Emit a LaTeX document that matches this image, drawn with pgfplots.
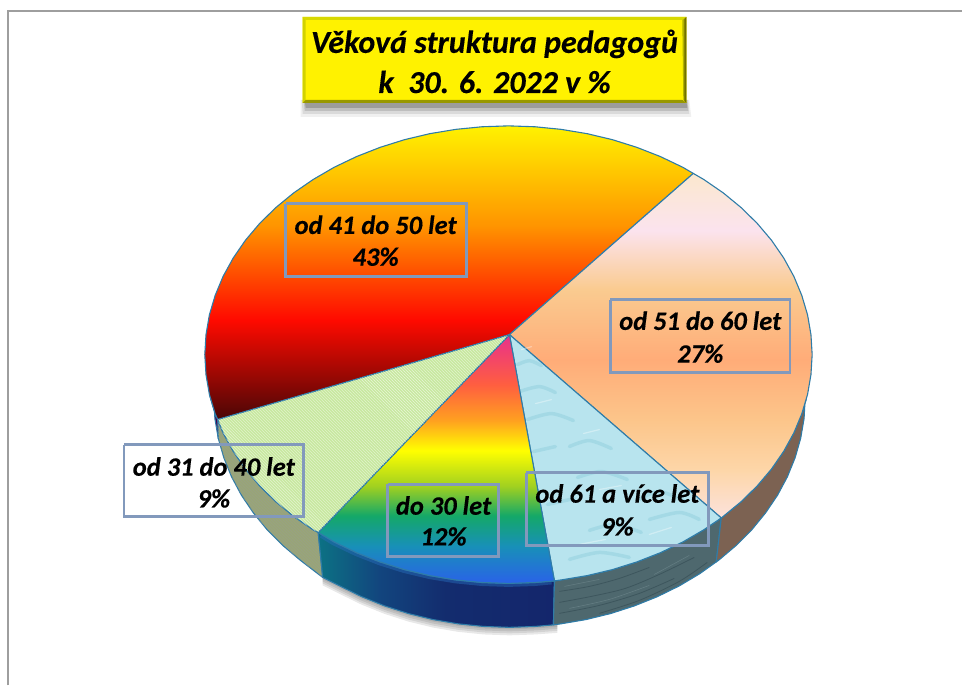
\documentclass[border=0pt]{standalone}
\usepackage{fontspec}
\setmainfont[BoldItalicFeatures={FakeBold=0.3}]{Carlito}
\usepackage{pgfplots}
\pgfplotsset{compat=1.18}
\usetikzlibrary{patterns}
\definecolor{edge}{HTML}{2F7CA8}
\definecolor{boxc}{HTML}{8299BC}
\definecolor{aa}{HTML}{FFF200}\definecolor{ab}{HTML}{FF9400}\definecolor{ac}{HTML}{FF0A00}\definecolor{ad}{HTML}{4A0606}
\definecolor{pa}{HTML}{FBE8CE}\definecolor{pb}{HTML}{FBE3EE}\definecolor{pc}{HTML}{FACB90}\definecolor{pd}{HTML}{FFAC78}\definecolor{pe}{HTML}{FCC58A}\definecolor{pf}{HTML}{FDD6A8}\definecolor{pg}{HTML}{FCE2DC}
\definecolor{ra}{HTML}{E8308C}\definecolor{rb}{HTML}{FF5E40}\definecolor{rc}{HTML}{FFA020}\definecolor{rd}{HTML}{FFFF00}\definecolor{re}{HTML}{A0D020}\definecolor{rf}{HTML}{14A868}\definecolor{rg}{HTML}{1890B8}\definecolor{rh}{HTML}{2A62E8}
\definecolor{ba}{HTML}{0C7284}\definecolor{bb}{HTML}{12457E}\definecolor{bc}{HTML}{132C6E}\definecolor{bd}{HTML}{14266C}
\definecolor{ya}{HTML}{7E7E00}\definecolor{yb}{HTML}{3C3C00}
\pgfdeclareverticalshading{fortythree}{100bp}{color(0bp)=(ad);color(25bp)=(ad);color(42bp)=(ac);color(58bp)=(ab);color(75bp)=(aa);color(100bp)=(aa)}
\pgfdeclareverticalshading{twentyseven}{100bp}{color(0bp)=(pg);color(25bp)=(pg);color(32bp)=(pf);color(39.3bp)=(pe);color(48bp)=(pd);color(58.2bp)=(pc);color(66.7bp)=(pb);color(75bp)=(pa);color(100bp)=(pa)}
\pgfdeclareverticalshading{rainbow}{100bp}{color(0bp)=(rh);color(25bp)=(rh);color(32.5bp)=(rg);color(38.6bp)=(rf);color(44.5bp)=(re);color(51.7bp)=(rd);color(57.8bp)=(rc);color(65bp)=(rb);color(75bp)=(ra);color(100bp)=(ra)}
\pgfdeclarehorizontalshading{frontblue}{100bp}{color(0bp)=(ba);color(25bp)=(ba);color(38bp)=(bb);color(52bp)=(bc);color(75bp)=(bd);color(100bp)=(bd)}
\pgfplotstableread{
x y
323 578
340.2 586.6
362 597.3
384.9 606.5
408.8 614.2
433.4 620.2
458.6 624.5
484.2 627.1
510 628
535.8 627.1
558 625.5
558 615
323 570
}\shadowarc
\tikzset{
 sl/.style={draw=edge,line width=1.1pt,line join=round},
 lab/.style={font=\fontsize{26.5}{30}\selectfont\bfseries\itshape,text=black,inner sep=0pt,anchor=center},
 ttl/.style={font=\fontsize{32}{36}\selectfont\bfseries\itshape,text=black,inner sep=0pt,anchor=center},
 bx/.style={draw=boxc,line width=2.6pt,fill=none,line join=miter}
}
\begin{document}
\begin{tikzpicture}
\begin{axis}[scale only axis,width=963pt,height=686pt,xmin=0,xmax=963,ymin=0,ymax=686,y dir=reverse,hide axis,clip=false]
% page extent
\addplot[draw=none] coordinates {(0,0)(963,0)(963,686)(0,686)(0,0)};
% frame
\addplot[draw=black!38,line width=2pt] coordinates {(8.5,686)(8.5,11.5)(963,11.5)};
% title shadow
\addplot[fill=black,opacity=.06,draw=none] coordinates {(301,100)(690,100)(692,117)(301,117)(301,100)};
\addplot[fill=black,opacity=.09,draw=none] coordinates {(302,100)(689,100)(690,114)(303,114)(302,100)};
\addplot[fill=black,opacity=.13,draw=none] coordinates {(304,100)(688,100)(689,111)(305,111)(304,100)};
\addplot[fill=black,opacity=.18,draw=none] coordinates {(305,100)(687,100)(688,108)(306,108)(305,100)};
% title box
\addplot[fill=yellow,draw=none] coordinates {(303,17)(687,17)(687,103)(303,103)(303,17)};
\addplot[fill=ya!30!yellow,draw=none] coordinates {(303,17)(687,17)(683,20)(306,20)(303,17)};
\addplot[fill=ya!35!yellow,draw=none] coordinates {(303,17)(306,20)(306,100)(303,103)(303,17)};
\addplot[fill=ya!60!yellow,draw=none] coordinates {(687,17)(687,103)(684,100)(683,20)(687,17)};
\addplot[fill=ya!90!black,draw=none] coordinates {(687,17)(687,103)(685,101)(685,19)(687,17)};
\addplot[fill=ya!80!yellow,draw=none] coordinates {(303,103)(687,103)(683,100)(306,100)(303,103)};
\node[ttl] at (axis cs:495,44) {Věková struktura pedagogů};
\node[ttl] at (axis cs:495,82) {k\ \ 30. 6. 2022 v \%};
% pie shadow
\addplot[fill=black,opacity=.09,draw=none,yshift=-2pt] table {\shadowarc};
\addplot[fill=black,opacity=.09,draw=none,yshift=-4pt] table {\shadowarc};
\addplot[fill=black,opacity=.09,draw=none,yshift=-6pt] table {\shadowarc};
\addplot[fill=black,opacity=.09,draw=none,yshift=-8pt] table {\shadowarc};
% sides
\addplot[fill=black!60!red!70!blue,sl] coordinates {(209.6,394.8)(215.4,414.3)(218,420)(221,443)(218.5,438.8)(215.1,419)(214,399)(209.6,394.8)};
\addplot[fill={rgb,255:red,152;green,166;blue,118},sl] coordinates {(318.5,533)(313.6,530.4)(294,516.9)(276.1,502.2)(260,486.4)(245.7,469.5)(233.5,451.8)(223.3,433.3)(218,420)(218.5,438.8)(224.1,458.3)(231.8,477.3)(241.7,495.8)(253.7,513.5)(267.5,530.4)(283.3,546.2)(300.7,560.9)(323,578)(318.5,533)};
\addplot[pattern=north west lines,pattern color=white!60!black,draw=none,opacity=.5] coordinates {(318.5,533)(313.6,530.4)(294,516.9)(276.1,502.2)(260,486.4)(245.7,469.5)(233.5,451.8)(223.3,433.3)(218,420)(218.5,438.8)(224.1,458.3)(231.8,477.3)(241.7,495.8)(253.7,513.5)(267.5,530.4)(283.3,546.2)(300.7,560.9)(323,578)(318.5,533)};
\addplot[shading=frontblue,sl] coordinates {(555,581.5)(535.5,583.1)(509,584)(482.5,583.1)(456.2,580.5)(430.3,576.2)(405,570.2)(380.5,562.5)(357,553.3)(334.6,542.6)(318.5,533)(323,578)(340.2,586.6)(362,597.3)(384.9,606.5)(408.8,614.2)(433.4,620.2)(458.6,624.5)(484.2,627.1)(510,628)(535.8,627.1)(554,625.5)(555,581.5)};
% bevel of the blue side
\addplot[draw={rgb,255:red,40;green,110;blue,190},line width=7pt,opacity=.45,line cap=butt] coordinates {(552,581.5)(535.5,583.1)(509,584)(482.5,583.1)(456.2,580.5)(430.3,576.2)(405,570.2)(380.5,562.5)(357,553.3)(334.6,542.6)(322,535)};
\addplot[fill={rgb,255:red,78;green,104;blue,110},sl] coordinates {(722,518.5)(704.4,530.4)(683.4,542.6)(661,553.3)(637.5,562.5)(613,570.2)(587.7,576.2)(561.8,580.5)(555,581.5)(554,625.5)(561.4,624.5)(586.6,620.2)(611.2,614.2)(635.1,606.5)(658,597.3)(679.8,586.6)(700.3,574.4)(717,562.5)(722,518.5)};
\addplot[fill={rgb,255:red,124;green,98;blue,82},sl] coordinates {(722,518.5)(724,516.9)(741.9,502.2)(758,486.4)(772.3,469.5)(784.5,451.8)(794.7,433.3)(802.6,414.3)(807,400)(806,399)(804.9,419)(801.5,438.8)(795.9,458.3)(788.2,477.3)(778.3,495.8)(766.3,513.5)(752.5,530.4)(736.7,546.2)(719.3,560.9)(717,562.5)(722,518.5)};
% texture of the water side
\addplot[smooth,draw={rgb,255:red,50;green,74;blue,82},line width=.8pt,opacity=.6,unbounded coords=jump] table {
x y
560 592
590 587
620 579
650 568
nan nan
560 603
592 597
626 589
660 575
695 558
nan nan
560 614
600 606
640 594
675 579
nan nan
600 614
640 601
680 582
708 563
};
\addplot[smooth,draw={rgb,255:red,120;green,145;blue,150},line width=.6pt,opacity=.5,unbounded coords=jump] table {
x y
565 587
600 580
nan nan
570 609
610 600
650 586
nan nan
655 575
690 556
};
% top faces
\addplot[shading=fortythree,sl] coordinates {(510,335)(218,420)(215.4,414.3)(209.6,394.8)(206.2,375)(205,355)(206.2,335)(209.6,315.2)(215.4,295.7)(223.3,276.7)(233.5,258.2)(245.7,240.5)(260,223.6)(276.1,207.8)(294,193.1)(313.6,179.6)(334.6,167.4)(357,156.7)(380.5,147.5)(405,139.8)(430.3,133.8)(456.2,129.5)(482.5,126.9)(509,126)(535.5,126.9)(561.8,129.5)(587.7,133.8)(613,139.8)(637.5,147.5)(661,156.7)(683.4,167.4)(694,173.6)(510,335)};
\addplot[shading=twentyseven,sl] coordinates {(510,335)(694,173.6)(704.4,179.6)(724,193.1)(741.9,207.8)(758,223.6)(772.3,240.5)(784.5,258.2)(794.7,276.7)(802.6,295.7)(808.4,315.2)(811.8,335)(813,355)(811.8,375)(808.4,394.8)(802.6,414.3)(794.7,433.3)(784.5,451.8)(772.3,469.5)(758,486.4)(741.9,502.2)(724,516.9)(722,518.5)(510,335)};
\addplot[fill={rgb,255:red,184;green,228;blue,238},sl] coordinates {(510,335)(722,518.5)(704.4,530.4)(683.4,542.6)(661,553.3)(637.5,562.5)(613,570.2)(587.7,576.2)(561.8,580.5)(555,581.5)(510,335)};
% water ripples
\addplot[smooth,draw={rgb,255:red,140;green,205;blue,220},line width=3.5pt,opacity=.45,line cap=round,unbounded coords=jump] table {
x y
518 365
530 361
542 366
nan nan
520 392
540 387
556 393
nan nan
528 420
552 414
574 421
nan nan
570 447
590 441
612 449
nan nan
534 452
556 447
nan nan
578 478
602 472
628 480
nan nan
640 500
660 492
686 502
nan nan
548 505
575 499
nan nan
590 531
615 525
642 533
nan nan
570 560
600 553
630 558
nan nan
650 520
680 513
700 520
};
\addplot[smooth,draw=white,line width=1.2pt,opacity=.35,line cap=round,unbounded coords=jump] table {
x y
522 350
532 347
nan nan
536 404
552 400
nan nan
584 434
600 430
nan nan
600 490
622 486
nan nan
580 545
606 540
nan nan
650 535
672 528
};
\addplot[shading=rainbow,sl] coordinates {(510,335)(555,581.5)(535.5,583.1)(509,584)(482.5,583.1)(456.2,580.5)(430.3,576.2)(405,570.2)(380.5,562.5)(357,553.3)(334.6,542.6)(318.5,533)(510,335)};
\addplot[fill={rgb,255:red,200;green,232;blue,160},sl] coordinates {(510,335)(318.5,533)(313.6,530.4)(294,516.9)(276.1,502.2)(260,486.4)(245.7,469.5)(233.5,451.8)(223.3,433.3)(218,420)(510,335)};
\addplot[pattern=north west lines,pattern color=white,draw=none,opacity=.55] coordinates {(510,335)(318.5,533)(313.6,530.4)(294,516.9)(276.1,502.2)(260,486.4)(245.7,469.5)(233.5,451.8)(223.3,433.3)(218,420)(510,335)};
% label boxes
\addplot[bx] coordinates {(286,204)(467,204)(467,277)(286,277)(286,204)};
\addplot[bx] coordinates {(611,300)(791,300)(791,373)(611,373)(611,300)};
\addplot[bx] coordinates {(124,445)(304,445)(304,517)(124,517)(124,445)};
\addplot[bx] coordinates {(388,485)(499,485)(499,557)(388,557)(388,485)};
\addplot[bx] coordinates {(527,473)(709,473)(709,546)(527,546)(527,473)};
\node[lab] at (axis cs:376,225) {od 41 do 50 let};
\node[lab] at (axis cs:376,257) {43\%};
\node[lab] at (axis cs:701,321) {od 51 do 60 let};
\node[lab] at (axis cs:701,354) {27\%};
\node[lab] at (axis cs:214,467) {od 31 do 40 let};
\node[lab] at (axis cs:214,499) {9\%};
\node[lab] at (axis cs:444,506) {do 30 let};
\node[lab] at (axis cs:444,537) {12\%};
\node[lab] at (axis cs:618,494) {od 61 a více let};
\node[lab] at (axis cs:618,527) {9\%};
\end{axis}
\end{tikzpicture}
\end{document}
